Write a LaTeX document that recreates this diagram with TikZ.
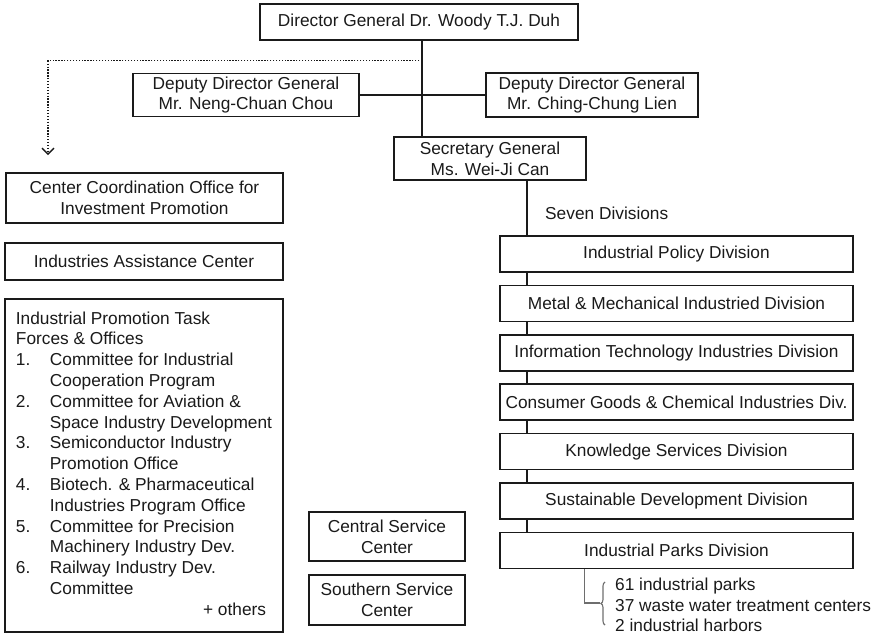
\documentclass[tikz,border=0pt]{standalone}
\usepackage{fontspec}
\setmainfont{Liberation Sans}
\usetikzlibrary{arrows.meta,calc,decorations.pathreplacing}
\definecolor{ink}{HTML}{1A1A1A}
\definecolor{soft}{HTML}{6E6E6E}
\begin{document}
\begin{tikzpicture}[x=1pt,y=-1pt,
  every node/.style={text=ink},
  txt/.style={font=\fontsize{17.3}{20.8}\selectfont},
  box/.style={txt,draw=ink,line width=1.7pt,fill=white,align=center,inner sep=2pt},
  divbox/.style={box,minimum width=353,minimum height=36},
  link/.style={draw=ink,line width=1.7pt},
  dotlink/.style={draw=ink,line width=1.3pt,dash pattern=on 1.3pt off 1.6pt,
    -{Straight Barb[length=6pt,width=12pt,line width=1.3pt]}},
  bracketline/.style={draw=soft,line width=1.1pt}]
\useasboundingbox (0,0) rectangle (876,634);

% top of the hierarchy
\node[box,minimum width=318,minimum height=36] (dg) at (419,22) {Director General Dr. Woody T.J. Duh};
\node[box,minimum width=226,minimum height=43] (dd1) at (246,95) {Deputy Director General\\Mr. Neng-Chuan Chou};
\node[box,minimum width=212,minimum height=44] (dd2) at (592,95) {Deputy Director General\\Mr. Ching-Chung Lien};
\node[box,minimum width=192,minimum height=43] (sg) at (490,158.5) {Secretary General\\Ms. Wei-Ji Can};

% left column of offices
\node[box,minimum width=277,minimum height=50] (cco) at (144.5,198) {Center Coordination Office for\\Investment Promotion};
\node[box,minimum width=278,minimum height=37] (iac) at (144,261.5) {Industries Assistance Center};
\node[box,minimum width=278,minimum height=333,align=left,inner xsep=11pt] (ipt) at (144,465.5) {%
  \begin{tabular}{@{}p{34pt}@{}l@{}}
  \multicolumn{2}{@{}l@{}}{Industrial Promotion Task}\\
  \multicolumn{2}{@{}l@{}}{Forces \& Offices}\\
  1. & Committee for Industrial\\
     & Cooperation Program\\
  2. & Committee for Aviation \&\\
     & Space Industry Development\\
  3. & Semiconductor Industry\\
     & Promotion Office\\
  4. & Biotech. \& Pharmaceutical\\
     & Industries Program Office\\
  5. & Committee for Precision\\
     & Machinery Industry Dev.\\
  6. & Railway Industry Dev.\\
     & Committee\\
  \multicolumn{2}{@{}r@{\hspace{6pt}}}{+ others}
  \end{tabular}};

% service centers
\node[box,minimum width=156,minimum height=49] (csc) at (387,536.5) {Central Service\\Center};
\node[box,minimum width=156,minimum height=50] (ssc) at (387,600) {Southern Service\\Center};

% the seven divisions
\node[txt,anchor=west,inner sep=0pt] (seven) at (545,213) {Seven Divisions};
\node[divbox] (d1) at (676.5,254.0) {Industrial Policy Division};
\node[divbox] (d2) at (676.5,303.4) {Metal \& Mechanical Industried Division};
\node[divbox] (d3) at (676.5,352.8) {Information Technology Industries Division};
\node[divbox] (d4) at (676.5,402.2) {Consumer Goods \& Chemical Industries Div.};
\node[divbox] (d5) at (676.5,451.6) {Knowledge Services Division};
\node[divbox] (d6) at (676.5,501.0) {Sustainable Development Division};
\node[divbox] (d7) at (676.5,550.4) {Industrial Parks Division};

% industrial parks summary
\node[txt,anchor=west,align=left,inner sep=0pt] (parks) at (615,605) {61 industrial parks\\37 waste water treatment centers\\2 industrial harbors};

% connectors
\coordinate (drop) at ([xshift=163pt]dg.south west);
\coordinate (split) at ($(drop)+(0,20)$);
\coordinate (ccotip) at (48,155);
\coordinate (spine) at ([xshift=28pt]d1.north west);
\draw[link] (drop) -- (drop |- sg.north);
\draw[link] (dd1.east) -- (dd2.west);
\draw[dotlink] (split) -| (ccotip);
\draw[link] (sg.south -| spine) -- (spine);
\foreach \a/\b in {d1/d2,d2/d3,d3/d4,d4/d5,d5/d6,d6/d7}
  \draw[link] ([xshift=28pt]\a.south west) -- ([xshift=28pt]\b.north west);

% bracket from the parks division
\coordinate (bracetip) at (600,603);
\draw[bracketline] ([xshift=85pt]d7.south west) |- (bracetip);
\draw[bracketline,decorate,decoration={brace,amplitude=4pt}] (605,625) -- (605,582);
\end{tikzpicture}
\end{document}
